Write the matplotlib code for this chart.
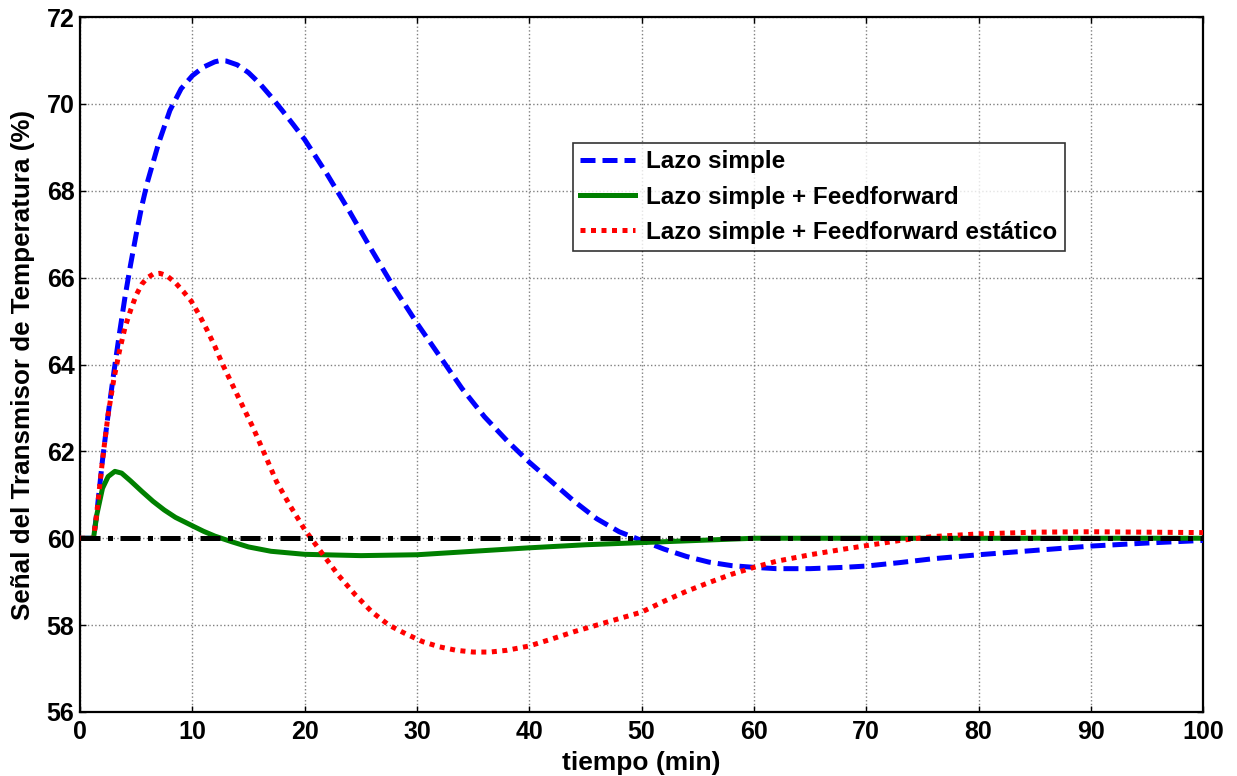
#!/usr/bin/env python3

import matplotlib

matplotlib.use("Agg")
import matplotlib.pyplot as plt

plt.rcParams["font.family"] = ["Liberation Sans", "DejaVu Sans"]
plt.rcParams["font.weight"] = "bold"

# values (time in min, signal in %)
t_simple = [0, 1.2, 1.5, 2.0, 2.5, 3.0, 3.5, 4.0, 4.5, 5.0, 5.5, 6.0, 7.0, 8.0,
            9.0, 10.0, 11.0, 12.0, 12.5, 13.0, 14.0, 15.0, 16.0, 17.0, 18.0, 19.0,
            20.0, 22.0, 24.0, 26.0, 28.0, 30.0, 32.0, 34.0, 36.0, 38.0, 40.0, 42.0,
            44.0, 46.0, 48.0, 50.0, 52.0, 54.0, 56.0, 58.0, 60.0, 62.0, 65.0, 68.0,
            70.0, 73.0, 76.0, 80.0, 85.0, 90.0, 95.0, 100.0]
y_simple = [60, 60, 60.6, 61.8, 62.85, 63.8, 64.7, 65.55, 66.3, 67.0, 67.65, 68.2,
            69.1, 69.85, 70.35, 70.65, 70.85, 70.97, 71.0, 70.99, 70.9, 70.72,
            70.47, 70.17, 69.85, 69.52, 69.18, 68.38, 67.52, 66.62, 65.75, 64.95,
            64.2, 63.45, 62.8, 62.25, 61.75, 61.3, 60.85, 60.45, 60.15, 59.95,
            59.75, 59.58, 59.45, 59.37, 59.33, 59.3, 59.3, 59.33, 59.36, 59.44,
            59.53, 59.62, 59.72, 59.82, 59.89, 59.95]

t_ff = [0, 1.2, 1.5, 2.0, 2.5, 3.1, 3.7, 4.5, 5.5, 6.5, 7.5, 8.5, 9.9, 11.0, 12.0,
        13.5, 15.0, 17.0, 20.0, 25.0, 30.0, 35.0, 40.0, 45.0, 50.0, 55.0, 60.0,
        100.0]
y_ff = [60, 60, 60.55, 61.15, 61.42, 61.54, 61.5, 61.32, 61.08, 60.85, 60.65,
        60.48, 60.3, 60.16, 60.05, 59.92, 59.8, 59.7, 59.63, 59.6, 59.62, 59.7,
        59.78, 59.85, 59.9, 59.95, 60.0, 60.0]

t_static = [0, 1.2, 1.5, 2.0, 2.5, 3.0, 3.5, 4.0, 4.5, 5.0, 5.5, 6.0, 6.5, 7.1,
            7.7, 8.5, 9.2, 9.9, 10.6, 11.3, 12.0, 12.7, 14.0, 15.4, 16.5, 17.5,
            18.7, 20.0, 21.7, 23.0, 24.5, 26.0, 27.5, 29.0, 30.5, 32.0, 33.5, 35.0,
            36.5, 38.0, 40.0, 42.0, 44.0, 46.0, 48.0, 50.0, 52.0, 54.0, 56.0, 58.0,
            60.0, 62.0, 65.0, 68.0, 70.0, 73.0, 76.0, 80.0, 85.0, 90.0, 95.0, 100.0]
y_static = [60, 60, 60.6, 61.8, 62.85, 63.65, 64.3, 64.85, 65.25, 65.6, 65.85, 66.0,
            66.08, 66.1, 66.05, 65.88, 65.68, 65.46, 65.15, 64.8, 64.42, 64.0, 63.3,
            62.55, 61.9, 61.3, 60.75, 60.2, 59.6, 59.15, 58.7, 58.3, 58.0, 57.8,
            57.62, 57.5, 57.42, 57.38, 57.38, 57.42, 57.52, 57.68, 57.85, 58.0,
            58.15, 58.3, 58.55, 58.78, 58.98, 59.17, 59.33, 59.47, 59.62, 59.75,
            59.83, 59.95, 60.04, 60.1, 60.14, 60.15, 60.14, 60.13]

t_ref = [0, 100]
y_ref = [60, 60]

labels = ["Lazo simple", "Lazo simple + Feedforward",
          "Lazo simple + Feedforward estático"]

fig = plt.figure(figsize=(12.37, 7.76), dpi=100)
ax = fig.add_axes([0.0647, 0.0825, 0.908, 0.8955])

ax.plot(t_simple, y_simple, color="blue", lw=3.6, dashes=(3, 1.4),
        label=labels[0], zorder=3)
ax.plot(t_ff, y_ff, color="green", lw=3.6, label=labels[1], zorder=3)
ax.plot(t_static, y_static, color="red", lw=3.6, dashes=(1, 1.1),
        label=labels[2], zorder=4)
ax.plot(t_ref, y_ref, color="black", lw=3.6, dashes=(4, 1.5, 1, 1.5), zorder=5)

ax.set_xlim(0, 100)
ax.set_ylim(56, 72)
ax.set_xticks(range(0, 101, 10))
ax.set_yticks(range(56, 73, 2))
ax.grid(True, color="gray", linestyle=":", linewidth=1.0)
ax.tick_params(direction="in", top=True, right=True, length=4, width=1,
               labelsize=18)
ax.tick_params(axis="x", pad=6)
ax.tick_params(axis="y", pad=4)
for lab in ax.get_xticklabels() + ax.get_yticklabels():
    lab.set_fontweight("bold")
for sp in ax.spines.values():
    sp.set_linewidth(1.6)

ax.set_xlabel("tiempo (min)", fontsize=19, fontweight="bold", labelpad=5)
ax.set_ylabel("Señal del Transmisor de Temperatura (%)", fontsize=18.7,
              fontweight="bold", labelpad=8)

leg = ax.legend(loc="upper left", bbox_to_anchor=(0.439, 0.8187),
                prop={"weight": "bold", "size": 17.5}, frameon=True,
                fancybox=False, edgecolor="black", handlelength=2.25,
                handletextpad=0.45, borderpad=0.3, labelspacing=0.5,
                borderaxespad=0)
leg.get_frame().set_linewidth(1.2)

fig.savefig("out.png", dpi=100)
